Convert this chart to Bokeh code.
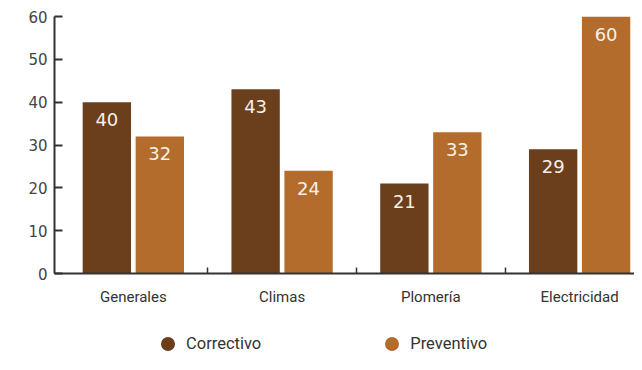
from bokeh.plotting import figure
from bokeh.layouts import column
from bokeh.models import (Range1d, FixedTicker, ColumnDataSource,
                          Legend, LegendItem)
from bokeh.transform import dodge
from bokeh.core.properties import value
from bokeh.embed import file_html
from bokeh.resources import INLINE

categories = ["Generales", "Climas", "Plomería", "Electricidad"]
correctivo = [40, 43, 21, 29]
preventivo = [32, 24, 33, 60]
y_ticks = [0, 10, 20, 30, 40, 50, 60]
series_names = ["Correctivo", "Preventivo"]

C_CORR = "#6b3e1c"
C_PREV = "#b36c2b"
AXIS_C = "#333333"

idx = list(range(len(categories)))
src = ColumnDataSource(dict(
    x=idx,
    corr=correctivo,
    prev=preventivo,
    corr_s=[str(v) for v in correctivo],
    prev_s=[str(v) for v in preventivo],
))

p = figure(width=634, height=310, output_backend="svg", toolbar_location=None,
           x_range=Range1d(-0.53, 3.369), y_range=Range1d(0, 60),
           min_border_left=54, min_border_right=0, min_border_top=16,
           min_border_bottom=37)
p.outline_line_color = None
p.xgrid.visible = False
p.ygrid.visible = False

bw = 0.325
off = 0.178
p.vbar(x=dodge("x", -off, range=p.x_range), top="corr", width=bw, source=src,
       fill_color=C_CORR, line_color=None)
p.vbar(x=dodge("x", off, range=p.x_range), top="prev", width=bw, source=src,
       fill_color=C_PREV, line_color=None)

lbl_kw = dict(text_color="#f7f1ea", text_font=value("DejaVu Sans"),
              text_font_size="18px", text_align="center", text_baseline="top",
              y_offset=11)
p.text(x=dodge("x", -off, range=p.x_range), y="corr", text="corr_s", source=src, **lbl_kw)
p.text(x=dodge("x", off, range=p.x_range), y="prev", text="prev_s", source=src, **lbl_kw)

# y axis
yax = p.yaxis[0]
yax.ticker = FixedTicker(ticks=y_ticks)
yax.axis_line_color = AXIS_C
yax.axis_line_width = 2
yax.major_tick_line_color = AXIS_C
yax.major_tick_line_width = 2
yax.major_tick_in = 8
yax.major_tick_out = 0
yax.minor_tick_line_color = None
yax.major_label_standoff = 7
yax.major_label_text_font = "DejaVu Sans"
yax.major_label_text_font_size = "15px"
yax.major_label_text_color = "#444444"

# x axis: labels at group centres, small ticks between groups
half = [i + 0.5 for i in idx[:-1]]
xax = p.xaxis[0]
xax.ticker = FixedTicker(ticks=idx, minor_ticks=half)
xax.major_label_overrides = {i: c for i, c in zip(idx, categories)}
xax.axis_line_color = AXIS_C
xax.axis_line_width = 2
xax.major_tick_line_color = None
xax.major_tick_in = 0
xax.major_tick_out = 0
xax.minor_tick_line_color = AXIS_C
xax.minor_tick_line_width = 1.5
xax.minor_tick_in = 6
xax.minor_tick_out = 0
xax.major_label_standoff = 14
xax.major_label_text_font = "Roboto"
xax.major_label_text_font_size = "15px"
xax.major_label_text_color = "#333333"

# legend figure (circle markers)
lf = figure(width=634, height=44, output_backend="svg", toolbar_location=None,
            x_range=Range1d(0, 1), y_range=Range1d(0, 1),
            x_axis_type=None, y_axis_type=None, min_border=0)
lf.outline_line_color = None
lf.xgrid.visible = False
lf.ygrid.visible = False
r1 = lf.scatter(x="x", y="corr", source=src, marker="circle",
                fill_color=C_CORR, line_color=None)
r2 = lf.scatter(x="x", y="prev", source=src, marker="circle",
                fill_color=C_PREV, line_color=None)
legend = Legend(items=[LegendItem(label=series_names[0], renderers=[r1]),
                       LegendItem(label=series_names[1], renderers=[r2])],
                orientation="horizontal", location=(96, -7),
                glyph_width=35, glyph_height=35, label_standoff=1,
                spacing=113, padding=0, margin=0,
                background_fill_alpha=0, border_line_color=None,
                label_text_font="Roboto", label_text_font_size="16.5px",
                label_text_color="#333333")
lf.add_layout(legend, "center")

layout = column(p, lf, spacing=0)
open("out.html", "w").write(file_html(layout, INLINE))
